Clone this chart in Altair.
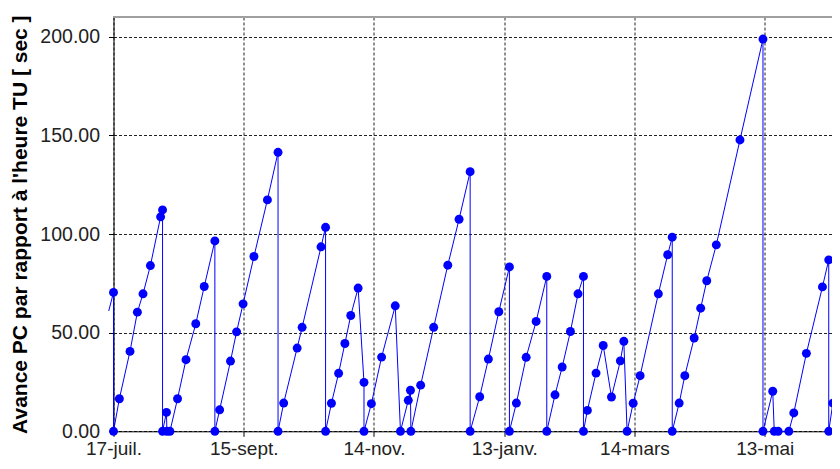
import altair as alt
import pandas as pd

# Day offset from 17-juil. (x) and clock advance in seconds (y)
DAYS = [-2.2, 0, 0, 2.7, 7.6, 11, 13.6, 17, 21.7, 22.6, 22.6, 24.4, 24.6, 26,
        29.5, 33.4, 37.9, 41.8, 46.7, 46.7, 48.9, 53.9, 56.7, 59.7, 64.7, 70.9,
        75.8, 75.8, 78.4, 84.6, 86.9, 95.6, 97.7, 97.7, 100.4, 103.7, 106.6,
        109.3, 112.7, 115.4, 115.4, 118.8, 123.5, 129.8, 132.2, 135.8, 136.8,
        137, 141.5, 147.5, 154, 159.2, 164.3, 164.3, 168.7, 172.7, 177.5, 182.4,
        182.4, 185.6, 190.1, 194.7, 199.6, 199.6, 203.4, 206.7, 210.5, 214,
        216.5, 216.5, 218.3, 222.3, 225.6, 229.4, 233.5, 235.1, 236.6, 239.4,
        242.6, 251, 255.3, 257.4, 257.4, 260.6, 263.2, 267.5, 270.5, 273.3,
        277.7, 288.6, 299.2, 299.2, 303.7, 304.4, 306.2, 311.1, 313.4, 319.2,
        326.6, 329.5, 329.5, 331.4, 336]
VALUES = [61, 70.4, 0, 16.5, 40.5, 60.4, 69.7, 84, 108.7, 112.2, 0, 9.6, 0, 0,
          16.5, 36.3, 54.5, 73.4, 96.5, 0, 10.9, 35.6, 50.4, 64.6, 88.6, 117.3,
          141.4, 0, 14.3, 42.2, 52.7, 93.5, 103.4, 0, 14.2, 29.4, 44.5,
          58.7, 72.6, 24.8, 0, 14, 37.6, 63.6, 0, 15.7, 20.8,
          0, 23.4, 52.7, 84.2, 107.5, 131.6, 0, 17.5, 36.6, 60.6, 83.3,
          0, 14.3, 37.5, 55.7, 78.5, 0, 18.5, 32.6, 50.6, 69.7,
          78.5, 0, 10.6, 29.5, 43.5, 17.4, 35.7, 45.6, 0, 14.2,
          28.2, 69.7, 89.5, 98.4, 0, 14.3, 28.2, 47.3, 62.4, 76.3,
          94.5, 147.7, 198.8, 0, 20.3, 0, 0, 0, 9.3, 39.5,
          73.2, 86.9, 0, 14.3, 28]
TICK_DAYS = [0, 60, 120, 180, 240, 300]
TICK_LABELS = ["17-juil.", "15-sept.", "14-nov.", "13-janv.", "14-mars", "13-mai"]
Y_TICKS = [0, 50, 100, 150, 200]
Y_MAX = 210
X_MAX = 331

n = len(DAYS)
df = pd.DataFrame({
    "day": DAYS,
    "val": VALUES,
    "i": list(range(n)),
    "marker": [0 < k < n - 1 for k in range(n)],
})

lab_arr = "[" + ",".join("'" + s + "'" for s in TICK_LABELS) + "]"
day_arr = "[" + ",".join(str(d) for d in TICK_DAYS) + "]"
label_expr = f"{lab_arr}[indexof({day_arr}, datum.value)]"

FONT = "Liberation Sans"

x = alt.X("day:Q",
          scale=alt.Scale(domain=[0, X_MAX], nice=False, zero=False),
          axis=alt.Axis(values=TICK_DAYS, labelExpr=label_expr, title=None,
                        grid=True, gridDash=[3, 2], gridColor="#222",
                        domainColor="#000", tickColor="#000", tickSize=5,
                        labelFont=FONT, labelFontSize=19, labelColor="#222",
                        labelPadding=3, labelFlush=False))
y = alt.Y("val:Q",
          scale=alt.Scale(domain=[0, Y_MAX], nice=False),
          axis=alt.Axis(values=Y_TICKS, format=".2f",
                        title="Avance PC par rapport à l'heure TU [ sec ]",
                        titleFont=FONT, titleFontSize=21, titleFontWeight="bold",
                        titleColor="#000", titlePadding=9,
                        grid=True, gridDash=[3, 2], gridColor="#222",
                        domainColor="#000", tickColor="#000", tickSize=5,
                        labelFont=FONT, labelFontSize=19.5, labelColor="#222",
                        labelPadding=9))

base = alt.Chart(df)
top_border = base.mark_rule(color="#a0a0a0", strokeWidth=1.5).encode(
    y=alt.datum(Y_MAX))
line = base.mark_line(color="#0000ff", strokeWidth=1, clip=False).encode(
    x=x, y=y, order="i:Q")
pts = base.transform_filter("datum.marker").mark_point(
    shape="circle", filled=True, size=80, color="#0000ff", opacity=1).encode(x=x, y=y)

chart = (top_border + line + pts).properties(
    width=718.5, height=414.3,
    autosize=alt.AutoSizeParams(type="none"),
    padding={"left": 105.5, "top": 9, "right": 0, "bottom": 29.7},
    background="white",
).configure_view(stroke=None)

chart.save("out.html", embed_options={"renderer": "svg", "actions": False})
